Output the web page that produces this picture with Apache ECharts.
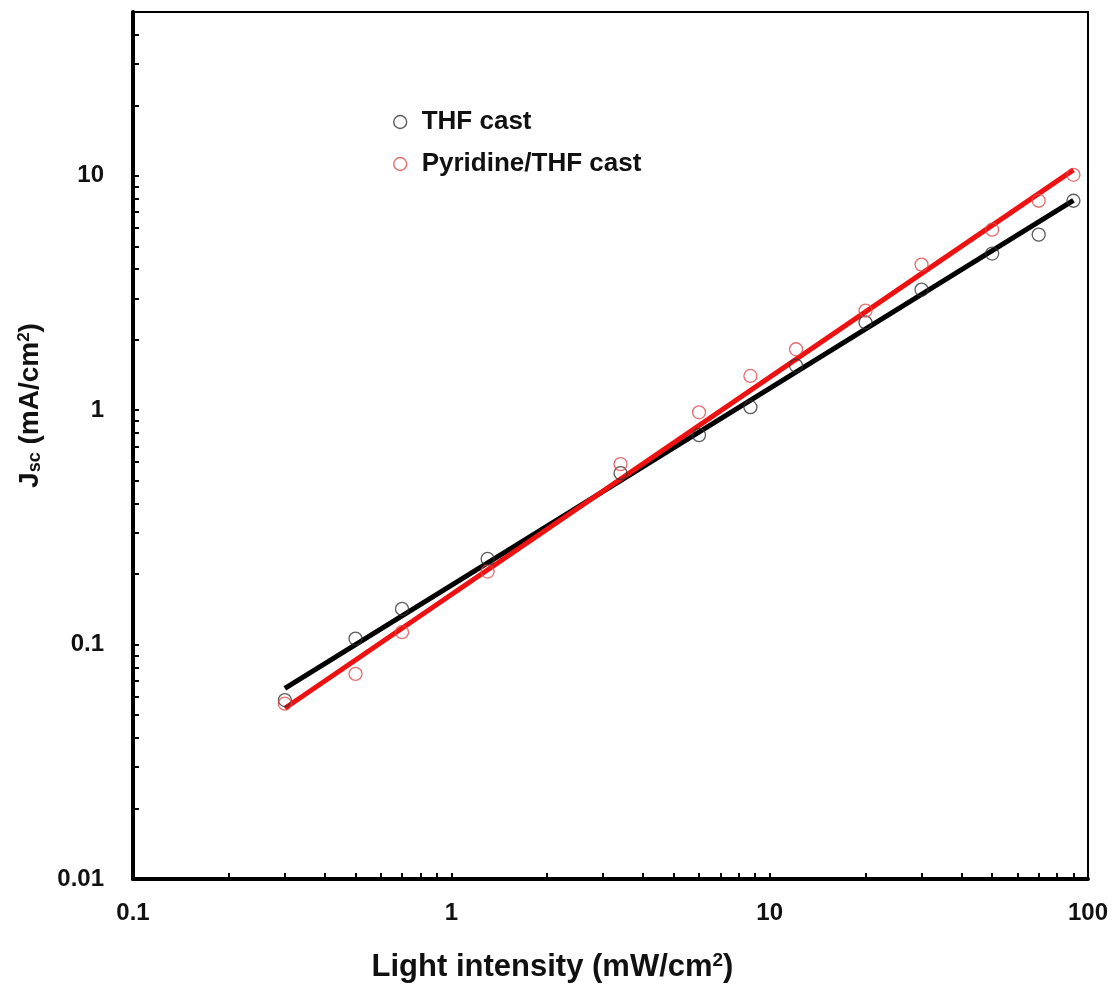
<!DOCTYPE html>
<html>
<head>
<meta charset="utf-8">
<script src="https://cdn.jsdelivr.net/npm/echarts@6/dist/echarts.min.js"></script>
<style>
html,body{margin:0;padding:0;background:#fff;}
#chart{width:1116px;height:991px;}
</style>
</head>
<body>
<div id="chart"></div>
<script>
// Light intensity (mW/cm2)
const intensity = [0.3, 0.5, 0.7, 1.3, 3.4, 6, 8.7, 12.1, 20, 30, 50, 70, 90];
// Jsc (mA/cm2)
const thfCast = [0.058, 0.106, 0.142, 0.232, 0.539, 0.783, 1.03, 1.55, 2.37, 3.27, 4.66, 5.61, 7.83];
const pyrThfCast = [0.056, 0.075, 0.113, 0.205, 0.589, 0.98, 1.40, 1.82, 2.66, 4.18, 5.89, 7.83, 10.1];
// fitted power-law lines (end points)
const fitX = [0.3, 90];
const fitThf = [0.065, 7.85];
const fitPyr = [0.0535, 10.6];
// axis tick values
const xLabels = [0.1, 1, 10, 100];
const yLabels = [0.01, 0.1, 1, 10];
const xTicks = [0.1,0.2,0.3,0.4,0.5,0.6,0.7,0.8,0.9,1,2,3,4,5,6,7,8,9,10,20,30,40,50,60,70,80,90,100];
const yTicks = [0.01,0.02,0.03,0.04,0.05,0.06,0.07,0.08,0.09,0.1,0.2,0.3,0.4,0.5,0.6,0.7,0.8,0.9,1,2,3,4,5,6,7,8,9,10,20,30,40];

const FONT = '"Liberation Sans", Arial, sans-serif';
const pairs = (xs, ys) => xs.map((x, i) => [x, ys[i]]);

const chart = echarts.init(document.getElementById('chart'));
chart.setOption({
  backgroundColor: '#fff',
  animation: false,
  grid: {left: 133, right: 28, top: 12, bottom: 112, show: true, borderColor: '#000', borderWidth: 2, backgroundColor: 'transparent'},
  legend: {
    orient: 'vertical', left: 388, top: 104, itemWidth: 13, itemHeight: 13, itemGap: 16,
    data: [
      {name: 'THF cast', icon: 'circle', itemStyle: {color: '#fff', borderColor: '#333', borderWidth: 1.4}},
      {name: 'Pyridine/THF cast', icon: 'circle', itemStyle: {color: '#fff', borderColor: '#e04848', borderWidth: 1.4}}
    ],
    textStyle: {fontFamily: FONT, fontSize: 26, fontWeight: 'bold', color: '#111', padding: [0, 0, 0, 10]}
  },
  xAxis: {
    type: 'log', min: 0.1, max: 100, logBase: 10,
    name: 'Light intensity (mW/cm{sup|2})', nameLocation: 'middle', nameGap: 72,
    nameTextStyle: {fontFamily: FONT, fontSize: 31, fontWeight: 'bold', color: '#111', padding: [0, 116, 0, 0],
      rich: {sup: {fontFamily: FONT, fontSize: 19, fontWeight: 'bold', color: '#111', padding: [0, 0, 13, 0]}}},
    axisLine: {show: true, lineStyle: {color: '#000', width: 4}},
    axisTick: {show: true, inside: true, length: 6, lineStyle: {color: '#000', width: 2}, customValues: xTicks},
    axisLabel: {customValues: xLabels, margin: 22, fontFamily: FONT, fontSize: 24, fontWeight: 'bold', color: '#111',
      formatter: v => String(v)},
    splitLine: {show: false}, minorTick: {show: false}
  },
  yAxis: {
    type: 'log', min: 0.01, max: 50, logBase: 10,
    name: 'J{sub|sc} (mA/cm{sup|2})', nameLocation: 'middle', nameGap: 88, nameRotate: 90,
    nameTextStyle: {fontFamily: FONT, fontSize: 28, fontWeight: 'bold', color: '#111', padding: [0, 0, 0, 80],
      rich: {
        sub: {fontFamily: FONT, fontSize: 18, fontWeight: 'bold', color: '#111', padding: [10, 0, 0, 0]},
        sup: {fontFamily: FONT, fontSize: 17, fontWeight: 'bold', color: '#111', padding: [0, 0, 12, 0]}
      }},
    axisLine: {show: true, lineStyle: {color: '#000', width: 4}},
    axisTick: {show: true, inside: true, length: 6, lineStyle: {color: '#000', width: 2}, customValues: yTicks},
    axisLabel: {customValues: yLabels, margin: 29, fontFamily: FONT, fontSize: 24, fontWeight: 'bold', color: '#111',
      formatter: v => String(v)},
    splitLine: {show: false}, minorTick: {show: false}
  },
  series: [
    {name: 'THF fit', type: 'line', data: pairs(fitX, fitThf), symbol: 'none', z: 2,
      lineStyle: {color: '#000', width: 5}},
    {name: 'Pyridine/THF fit', type: 'line', data: pairs(fitX, fitPyr), symbol: 'none', z: 3,
      lineStyle: {color: '#ee1111', width: 5}},
    {name: 'THF cast', type: 'scatter', data: pairs(intensity, thfCast), symbol: 'circle', symbolSize: 13, z: 5,
      itemStyle: {color: 'rgba(255,255,255,0)', borderColor: '#333', borderWidth: 1.3}},
    {name: 'Pyridine/THF cast', type: 'scatter', data: pairs(intensity, pyrThfCast), symbol: 'circle', symbolSize: 13, z: 5,
      itemStyle: {color: 'rgba(255,255,255,0)', borderColor: '#e04848', borderWidth: 1.3}}
  ]
});
</script>
</body>
</html>
